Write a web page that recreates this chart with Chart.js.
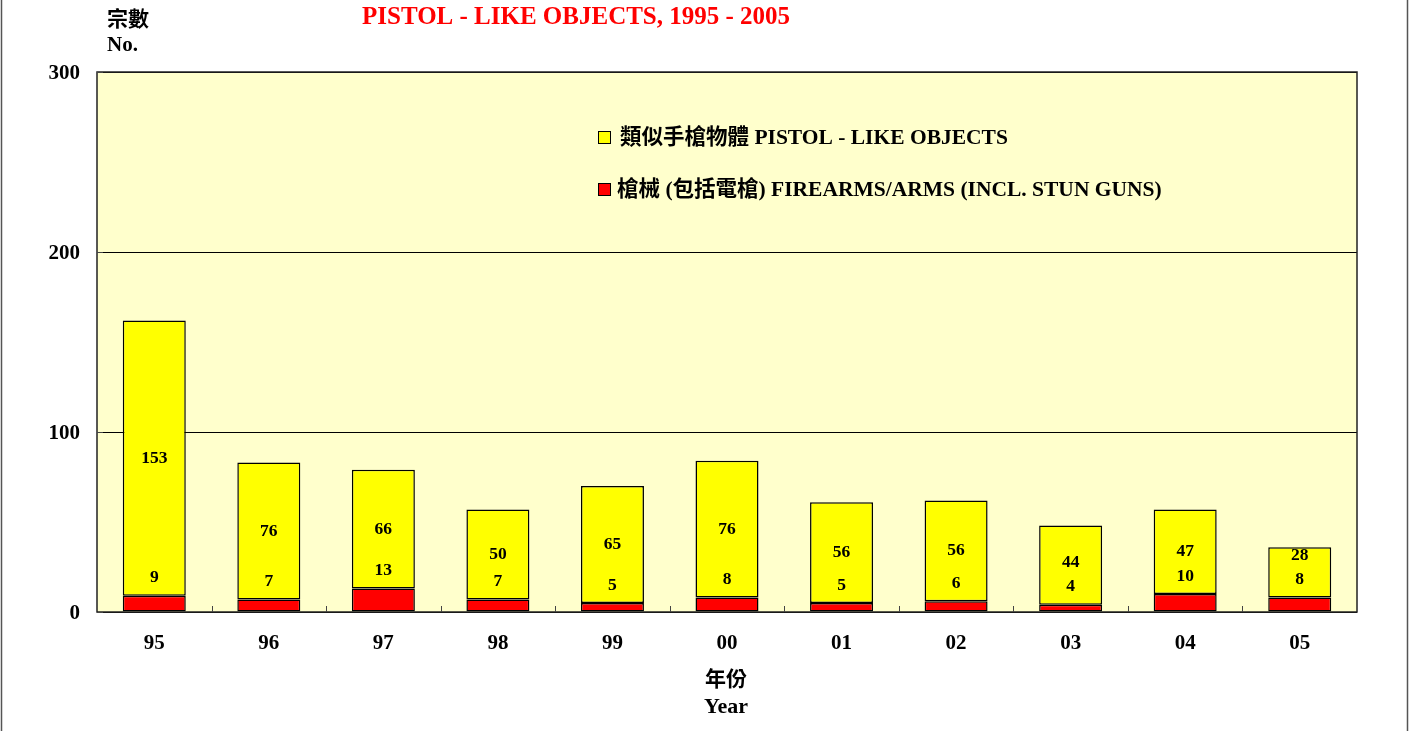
<!DOCTYPE html>
<html>
<head>
<meta charset="utf-8">
<script src="https://cdn.jsdelivr.net/npm/chart.js@4.4.1/dist/chart.umd.min.js"></script>
<style>
  body { margin: 0; background: #fff; }
  canvas { display: block; }
</style>
</head>
<body>
<canvas id="grafico" width="1414" height="731"></canvas>
<script>
// datos
var years = ['95', '96', '97', '98', '99', '00', '01', '02', '03', '04', '05'];
var pistolLike = [153, 76, 66, 50, 65, 76, 56, 56, 44, 47, 28];
var firearms = [9, 7, 13, 7, 5, 8, 5, 6, 4, 10, 8];
var yTicks = [0, 100, 200, 300];

var chartTitle = 'PISTOL - LIKE OBJECTS, 1995 - 2005';
var yTitle = ['宗數', 'No.'];
var xTitle = ['年份', 'Year'];
var pistolLabel = '類似手槍物體 PISTOL - LIKE OBJECTS';
var firearmsLabel = '槍械 (包括電槍) FIREARMS/ARMS (INCL. STUN GUNS)';

var FONT = '"Liberation Serif", "Times New Roman", "Noto Sans CJK TC", serif';

var extras = {
    id: 'extras',
    beforeDraw: function (chart) {
        var ctx = chart.ctx, a = chart.chartArea;
        ctx.save();
        ctx.fillStyle = '#fff';
        ctx.fillRect(0, 0, chart.width, chart.height);
        ctx.fillStyle = '#FFFFCC';
        ctx.fillRect(a.left, a.top, a.right - a.left, a.bottom - a.top);
        // marco exterior
        ctx.strokeStyle = '#555';
        ctx.lineWidth = 1.5;
        ctx.beginPath();
        ctx.moveTo(1.5, 0); ctx.lineTo(1.5, chart.height);
        ctx.moveTo(1407.5, 0); ctx.lineTo(1407.5, chart.height);
        ctx.stroke();
        ctx.restore();
    },
    afterDatasetsDraw: function (chart) {
        var ctx = chart.ctx, a = chart.chartArea;
        var xs = chart.scales.x, ys = chart.scales.y;
        ctx.save();
        ctx.strokeStyle = '#222';
        ctx.lineWidth = 1.5;
        ctx.strokeRect(a.left, a.top, a.right - a.left, a.bottom - a.top);

        // marcas del eje x entre categorias
        ctx.lineWidth = 1;
        ctx.strokeStyle = '#444';
        ctx.beginPath();
        for (var i = 1; i < years.length; i++) {
            var tx = Math.round((xs.getPixelForValue(i - 1) + xs.getPixelForValue(i)) / 2) + 0.5;
            ctx.moveTo(tx, a.bottom);
            ctx.lineTo(tx, a.bottom - 6);
        }
        yTicks.forEach(function (v) {
            var ty = Math.round(ys.getPixelForValue(v)) + 0.5;
            ctx.moveTo(a.left, ty);
            ctx.lineTo(a.left + 6, ty);
        });
        ctx.stroke();

        // etiquetas de valores
        ctx.fillStyle = '#000';
        ctx.font = 'bold 17.5px ' + FONT;
        ctx.textAlign = 'center';
        ctx.textBaseline = 'middle';
        for (var j = 0; j < years.length; j++) {
            var cx = xs.getPixelForValue(j);
            var redY = ys.getPixelForValue(firearms[j]) - 18;
            var yelY = ys.getPixelForValue(firearms[j] + pistolLike[j] / 2);
            if (yelY > redY - 24) yelY = redY - 24;
            ctx.fillText(String(firearms[j]), cx, redY);
            ctx.fillText(String(pistolLike[j]), cx, yelY);
        }

        // leyenda
        var items = [
            { text: pistolLabel, color: '#FFFF00', y: 138, x: 620 },
            { text: firearmsLabel, color: '#FF0000', y: 190, x: 617 }
        ];
        ctx.font = 'bold 21.5px ' + FONT;
        ctx.textAlign = 'left';
        items.forEach(function (it) {
            ctx.fillStyle = it.color;
            ctx.fillRect(598.5, it.y - 6.5, 12, 12);
            ctx.strokeStyle = '#000';
            ctx.lineWidth = 1;
            ctx.strokeRect(598.5, it.y - 6.5, 12, 12);
            ctx.fillStyle = '#000';
            ctx.fillText(it.text, it.x, it.y);
        });

        // titulos
        ctx.fillStyle = '#FF0000';
        ctx.font = 'bold 25px ' + FONT;
        ctx.fillText(chartTitle, 362, 18);
        ctx.fillStyle = '#000';
        ctx.font = 'bold 21px ' + FONT;
        ctx.fillText(yTitle[0], 107, 21);
        ctx.font = 'bold 21px ' + FONT;
        ctx.fillText(yTitle[1], 107, 46);
        ctx.textAlign = 'center';
        ctx.font = 'bold 21px ' + FONT;
        ctx.fillText(xTitle[0], 726, 681);
        ctx.font = 'bold 22px ' + FONT;
        ctx.fillText(xTitle[1], 726, 707);
        ctx.restore();
    }
};

var ctx = document.getElementById('grafico').getContext('2d');
var myChart = new Chart(ctx, {
    type: 'bar',
    data: {
        labels: years,
        datasets: [{
            label: firearmsLabel,
            data: firearms,
            backgroundColor: '#FF0000',
            borderColor: '#000',
            borderWidth: 1.5,
            borderSkipped: false
        }, {
            label: pistolLabel,
            data: pistolLike,
            backgroundColor: '#FFFF00',
            borderColor: '#000',
            borderWidth: 1.5,
            borderSkipped: false
        }]
    },
    options: {
        responsive: false,
        animation: false,
        devicePixelRatio: 1,
        layout: { padding: { left: 0, top: 72, right: 57, bottom: 0 } },
        datasets: { bar: { barPercentage: 0.55, categoryPercentage: 1 } },
        plugins: {
            legend: { display: false },
            title: { display: false },
            tooltip: { enabled: false }
        },
        scales: {
            x: {
                stacked: true,
                grid: { display: false },
                border: { display: false },
                ticks: {
                    color: '#000',
                    padding: 11,
                    font: { family: FONT, size: 21, weight: 'bold' }
                },
                afterFit: function (s) { s.height = 119; }
            },
            y: {
                stacked: true,
                min: 0,
                max: 300,
                grid: { color: '#000', lineWidth: 1, drawTicks: false },
                border: { display: false },
                afterBuildTicks: function (s) {
                    s.ticks = yTicks.map(function (v) { return { value: v }; });
                },
                ticks: {
                    color: '#000',
                    padding: 17,
                    labelOffset: 2,
                    font: { family: FONT, size: 21, weight: 'bold' }
                },
                afterFit: function (s) { s.width = 97; }
            }
        }
    },
    plugins: [extras]
});
</script>
</body>
</html>
